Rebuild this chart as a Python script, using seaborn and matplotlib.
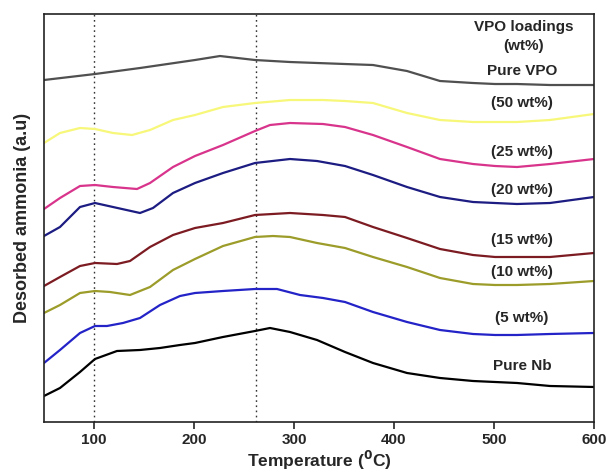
import matplotlib
matplotlib.use("Agg")
import matplotlib.pyplot as plt
import seaborn as sns

sns.set_style("ticks")
plt.rcParams['font.family'] = ['Liberation Sans', 'DejaVu Sans']
plt.rcParams['font.weight'] = 'bold'

# Temperatures (deg C) and desorbed ammonia signal (a.u., arbitrary offset units)
t_vpo = [50, 101, 146, 201, 226, 261, 296, 351, 379, 413, 446, 479, 501, 523, 556, 600]
y_vpo = [342, 348, 354, 362, 366, 362, 360, 358, 357, 351, 341, 339, 338, 338, 337, 337]

t_50 = [50, 66, 86, 101, 119, 138, 156, 179, 201, 229, 261, 296, 329, 351, 379, 413, 446, 479, 501, 523, 556, 600]
y_50 = [279, 289, 294, 293, 289, 287, 292, 302, 307, 315, 319, 322, 322, 321, 319, 309, 302, 300, 300, 300, 302, 308]

t_25 = [50, 66, 86, 101, 119, 143, 156, 179, 201, 229, 261, 276, 296, 329, 351, 379, 413, 446, 479, 501, 523, 556, 600]
y_25 = [213, 224, 236, 237, 235, 233, 239, 255, 266, 277, 291, 297, 299, 298, 295, 287, 275, 263, 258, 256, 255, 258, 263]

t_20 = [50, 66, 86, 101, 119, 146, 159, 179, 201, 229, 261, 296, 323, 351, 379, 413, 446, 479, 501, 523, 556, 600]
y_20 = [186, 195, 215, 219, 215, 209, 214, 229, 239, 249, 259, 263, 261, 256, 247, 235, 225, 220, 219, 218, 219, 225]

t_15 = [50, 66, 86, 101, 123, 136, 156, 179, 201, 229, 261, 296, 329, 351, 379, 413, 446, 479, 501, 523, 556, 600]
y_15 = [136, 145, 156, 159, 158, 161, 175, 187, 194, 199, 207, 209, 207, 205, 195, 184, 173, 167, 165, 165, 165, 169]

t_10 = [50, 66, 86, 101, 116, 136, 156, 179, 201, 229, 261, 279, 296, 323, 351, 379, 413, 446, 479, 501, 523, 556, 600]
y_10 = [109, 117, 129, 131, 130, 127, 135, 152, 163, 176, 185, 186, 185, 179, 174, 165, 155, 144, 138, 137, 137, 138, 141]

t_5 = [50, 66, 86, 101, 113, 129, 146, 166, 186, 201, 229, 261, 283, 306, 329, 351, 379, 413, 446, 479, 501, 523, 556, 600]
y_5 = [59, 72, 89, 96, 96, 99, 104, 117, 126, 129, 131, 133, 133, 127, 124, 120, 110, 100, 92, 88, 87, 87, 88, 89]

t_nb = [50, 66, 86, 101, 123, 146, 166, 186, 201, 229, 261, 276, 296, 323, 351, 379, 413, 446, 479, 501, 523, 556, 600]
y_nb = [26, 34, 50, 63, 71, 72, 74, 77, 79, 85, 91, 94, 90, 82, 70, 59, 49, 44, 41, 40, 39, 36, 35]

series_colors = ["#505050", "#f7f77a", "#d8348c", "#1c1c82", "#7c1c22", "#9c9c2a", "#2323c8", "#000000"]

labels = ["Pure VPO", "(50 wt%)", "(25 wt%)", "(20 wt%)", "(15 wt%)", "(10 wt%)", "(5 wt%)", "Pure Nb"]
label_y = [351, 319, 270, 232, 182, 150, 104, 56]

fig = plt.figure(figsize=(6.06, 4.75), dpi=100)
ax = fig.add_axes([0.0726, 0.1116, 0.9076, 0.8589])

data = [(t_vpo, y_vpo), (t_50, y_50), (t_25, y_25), (t_20, y_20),
        (t_15, y_15), (t_10, y_10), (t_5, y_5), (t_nb, y_nb)]
for (tx, ty), c in zip(data, series_colors):
    sns.lineplot(x=tx, y=ty, color=c, lw=1.6, ax=ax, sort=False)

for xv in [100, 262]:
    ax.axvline(xv, color="#333333", ls=(0, (1.2, 2.5)), lw=1.0, zorder=0)

ax.set_xlim(50, 600)
ax.set_ylim(0, 408)
ax.set_xticks([100, 200, 300, 400, 500, 600])
ax.set_yticks([])
ax.tick_params(axis='x', direction='out', length=5, width=1.2, labelsize=11, pad=3)
for lab in ax.get_xticklabels():
    lab.set_fontweight('bold')
for s in ax.spines.values():
    s.set_visible(True)
    s.set_linewidth(1.2)
    s.set_color("#222222")

ax.set_xlabel("Temperature ($^{\\mathbf{0}}$C)", fontsize=12.5, fontweight='bold', labelpad=1)
ax.set_ylabel("Desorbed ammonia (a.u)", fontsize=13, fontweight='bold', labelpad=9)

ax.text(530, 395, "VPO loadings", ha='center', va='center', fontsize=11, fontweight='bold')
ax.text(530, 376, "(wt%)", ha='center', va='center', fontsize=11, fontweight='bold')
for lab, ly in zip(labels, label_y):
    ax.text(528, ly, lab, ha='center', va='center', fontsize=11, fontweight='bold')

fig.savefig("out.png", dpi=100)
